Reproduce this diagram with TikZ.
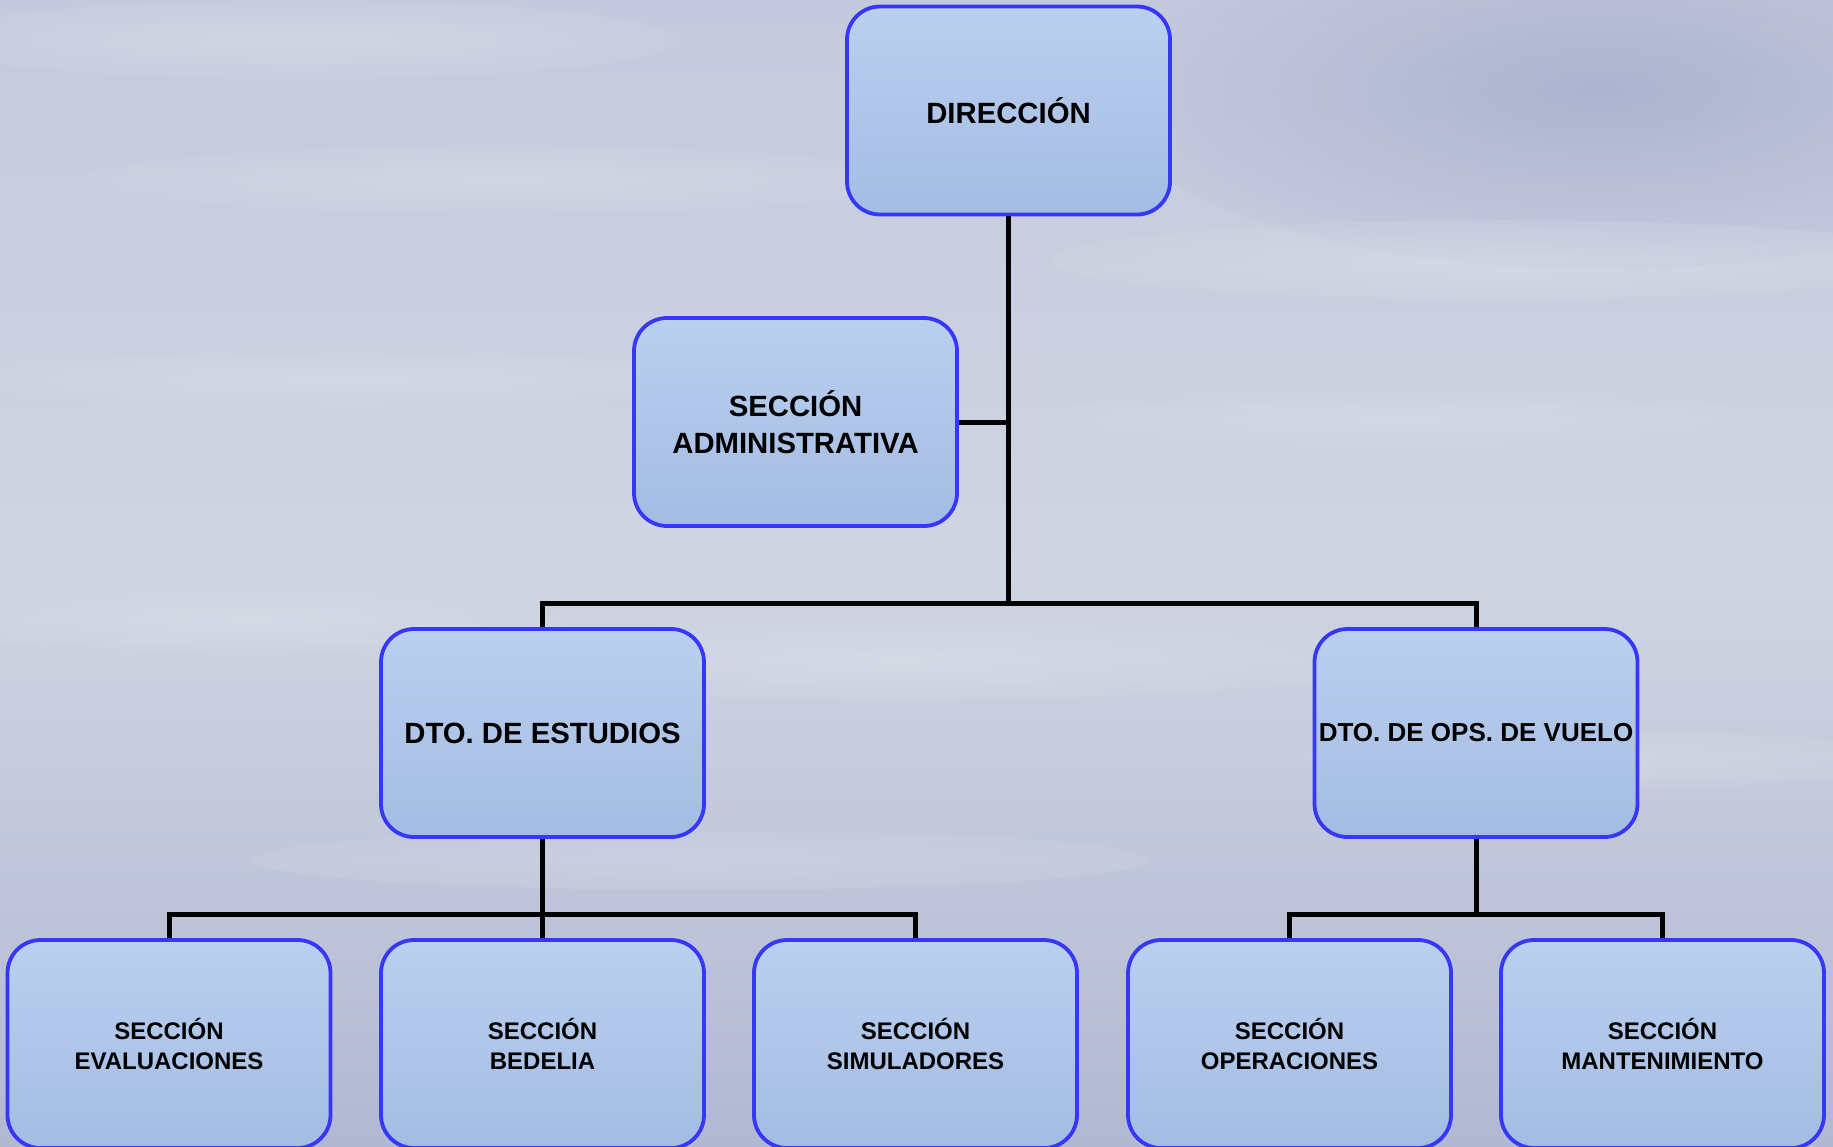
\documentclass[tikz,border=0pt]{standalone}
\usepackage{fontspec}
\setmainfont{Liberation Sans}
\definecolor{bgtop}{RGB}{196,201,221}
\definecolor{bgmid}{RGB}{208,213,226}
\definecolor{bgbot}{RGB}{178,184,210}
\definecolor{bgdark}{RGB}{168,174,204}
\definecolor{boxtop}{RGB}{186,208,240}
\definecolor{boxbot}{RGB}{164,188,226}
\definecolor{boxline}{RGB}{55,55,250}
\definecolor{cloud}{RGB}{232,236,242}
\tikzset{
  orgbox/.style={draw=boxline, line width=3.8pt, rounded corners=33pt,
    top color=boxtop, bottom color=boxbot, minimum width=323pt,
    minimum height=208pt, inner sep=0pt, align=center,
    font=\bfseries\fontsize{29.3}{36.5}\selectfont},
  smallbox/.style={orgbox, font=\bfseries\fontsize{24}{30}\selectfont},
  conn/.style={draw=black, line width=5pt}
}
\begin{document}
\begin{tikzpicture}[x=1pt,y=-1pt]
\clip (0,0) rectangle (1833,1146);
\shade[top color=bgtop, bottom color=bgbot, middle color=bgmid] (0,0) rectangle (1833,1146);
% darker sky at top right
\shade[inner color=bgdark, outer color=bgtop, opacity=0.8] (1600,90) ellipse [x radius=500, y radius=180];
% cloud streaks
\foreach \cx/\cy/\rx/\ry/\op in {300/40/380/40/0.35, 500/180/420/35/0.3, 1500/260/450/40/0.35, 350/380/400/30/0.3, 1400/420/380/30/0.25, 900/660/500/40/0.35, 250/620/330/35/0.3, 1600/760/300/30/0.3, 700/860/450/30/0.25}
  \shade[inner color=cloud, outer color=bgmid, opacity=\op] (\cx,\cy) ellipse [x radius=\rx, y radius=\ry];

\node[orgbox] (dir) at (1008.5,110.5) {DIRECCIÓN};
\node[orgbox] (adm) at (795.5,422) {SECCIÓN\\ADMINISTRATIVA};
\node[orgbox] (est) at (542.5,733) {DTO. DE ESTUDIOS};
\node[orgbox, font=\bfseries\fontsize{26}{30}\selectfont] (ops) at (1476,733) {DTO. DE OPS. DE VUELO};
\node[smallbox] (ev) at (169,1044) {SECCIÓN\\EVALUACIONES};
\node[smallbox] (bed) at (542.5,1044) {SECCIÓN\\BEDELIA};
\node[smallbox] (sim) at (915.5,1044) {SECCIÓN\\SIMULADORES};
\node[smallbox] (op) at (1289.5,1044) {SECCIÓN\\OPERACIONES};
\node[smallbox] (mant) at (1662.5,1044) {SECCIÓN\\MANTENIMIENTO};

\coordinate (b1) at (1008.5,603);
\coordinate (b2) at (542.5,914);
\coordinate (b3) at (1476,914);

\draw[conn] (dir.south) -- (b1);
\draw[conn] (adm.east) -- (adm.east -| dir.south);
\draw[conn] (est.north) |- (b1) -| (ops.north);
\draw[conn] (est.south) -- (b2);
\draw[conn] (ev.north) |- (b2) -| (sim.north);
\draw[conn] (bed.north) -- (b2);
\draw[conn] (ops.south) -- (b3);
\draw[conn] (op.north) |- (b3) -| (mant.north);
\end{tikzpicture}
\end{document}
